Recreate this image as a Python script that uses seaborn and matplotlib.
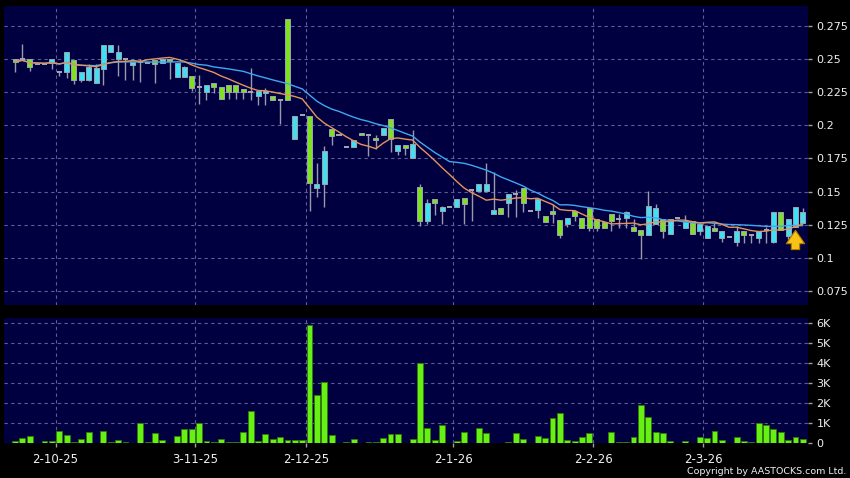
"""Daily candlestick chart with MA10/MA20 and volume, AASTOCKS style."""

import matplotlib
matplotlib.use("Agg")
import matplotlib.pyplot as plt
import numpy as np
import pandas as pd
import seaborn as sns

# ---- data (108 trading sessions) ----
opens = [
    0.250, 0.250, 0.250, 0.246, 0.246, 0.247, 0.240, 0.240, 0.2495, 0.234,
    0.2343, 0.232, 0.2425, 0.255, 0.250, 0.250, 0.2457, 0.2475, 0.247, 0.2493,
    0.247, 0.250, 0.2368, 0.2368, 0.2373, 0.2292, 0.2255, 0.232, 0.2287, 0.2305,
    0.2305, 0.2275, 0.2253, 0.2222, 0.2245, 0.2222, 0.2193, 0.280, 0.190, 0.2075,
    0.2067, 0.1525, 0.1555, 0.1975, 0.1925, 0.1837, 0.1833, 0.1945, 0.193, 0.1905,
    0.193, 0.205, 0.1805, 0.1855, 0.175, 0.1532, 0.1282, 0.1445, 0.1357, 0.1382,
    0.1382, 0.145, 0.1513, 0.1507, 0.1507, 0.1332, 0.1375, 0.1412, 0.148, 0.153,
    0.1357, 0.1362, 0.1315, 0.1357, 0.1285, 0.1255, 0.1352, 0.130, 0.1378, 0.1297,
    0.1272, 0.133, 0.1295, 0.130, 0.1237, 0.1212, 0.1175, 0.1257, 0.1295, 0.1182,
    0.130, 0.1225, 0.1275, 0.1205, 0.115, 0.1225, 0.115, 0.1155, 0.112, 0.1205,
    0.117, 0.115, 0.1212, 0.112, 0.135, 0.1167, 0.1237, 0.1267,
]
closes = [
    0.248, 0.250, 0.244, 0.246, 0.246, 0.250, 0.240, 0.255, 0.234, 0.240,
    0.2437, 0.2433, 0.2605, 0.2605, 0.255, 0.250, 0.2475, 0.2475, 0.247, 0.2463,
    0.2497, 0.2482, 0.2472, 0.2437, 0.2283, 0.2292, 0.2305, 0.2287, 0.2197, 0.225,
    0.225, 0.225, 0.2253, 0.2262, 0.2262, 0.2193, 0.2193, 0.2193, 0.2067, 0.2075,
    0.1563, 0.1557, 0.1805, 0.192, 0.1925, 0.1837, 0.1888, 0.1925, 0.193, 0.1888,
    0.198, 0.190, 0.1855, 0.183, 0.1858, 0.1282, 0.1412, 0.1412, 0.1387, 0.1382,
    0.1445, 0.1407, 0.1513, 0.1557, 0.1557, 0.1362, 0.1332, 0.148, 0.148, 0.1418,
    0.1357, 0.1445, 0.127, 0.133, 0.1175, 0.1298, 0.1315, 0.1223, 0.1227, 0.1223,
    0.1225, 0.1277, 0.1295, 0.1345, 0.120, 0.117, 0.139, 0.1375, 0.1202, 0.1297,
    0.130, 0.1275, 0.118, 0.1255, 0.1242, 0.120, 0.1205, 0.1155, 0.1205, 0.1175,
    0.117, 0.1205, 0.1212, 0.135, 0.1212, 0.1295, 0.1382, 0.135,
]
highs = [
    0.250, 0.261, 0.250, 0.246, 0.246, 0.250, 0.240, 0.255, 0.2495, 0.240,
    0.2463, 0.246, 0.2605, 0.2605, 0.2607, 0.250, 0.2475, 0.250, 0.247, 0.2493,
    0.2497, 0.250, 0.2472, 0.2445, 0.2373, 0.2382, 0.2305, 0.232, 0.2287, 0.2305,
    0.2305, 0.2275, 0.2433, 0.2262, 0.2285, 0.2222, 0.2193, 0.280, 0.2067, 0.2075,
    0.2067, 0.1718, 0.1845, 0.1975, 0.1925, 0.1837, 0.1888, 0.1945, 0.193, 0.1925,
    0.198, 0.205, 0.1855, 0.1855, 0.1963, 0.1557, 0.1445, 0.1445, 0.1395, 0.1382,
    0.1445, 0.1455, 0.1513, 0.1557, 0.1713, 0.165, 0.1375, 0.148, 0.151, 0.153,
    0.1357, 0.1445, 0.1315, 0.1407, 0.1285, 0.1298, 0.1365, 0.130, 0.1378, 0.1297,
    0.1272, 0.133, 0.1335, 0.1355, 0.1295, 0.1212, 0.1505, 0.1407, 0.1295, 0.1297,
    0.130, 0.1325, 0.1275, 0.1255, 0.1242, 0.1265, 0.1205, 0.1155, 0.124, 0.1205,
    0.117, 0.1205, 0.123, 0.135, 0.135, 0.1295, 0.1382, 0.138,
]
lows = [
    0.240, 0.250, 0.241, 0.246, 0.246, 0.2425, 0.2375, 0.236, 0.2315, 0.233,
    0.2333, 0.232, 0.2305, 0.255, 0.2375, 0.234, 0.2345, 0.2325, 0.247, 0.232,
    0.247, 0.235, 0.2368, 0.2368, 0.2258, 0.2163, 0.219, 0.2242, 0.2197, 0.220,
    0.220, 0.220, 0.219, 0.215, 0.215, 0.2193, 0.2007, 0.2193, 0.190, 0.2075,
    0.1357, 0.1462, 0.1387, 0.185, 0.1925, 0.1837, 0.1833, 0.1925, 0.177, 0.182,
    0.193, 0.180, 0.178, 0.178, 0.175, 0.124, 0.1257, 0.132, 0.1257, 0.1382,
    0.1382, 0.1257, 0.128, 0.1507, 0.1507, 0.1332, 0.1332, 0.1312, 0.1312, 0.135,
    0.1357, 0.130, 0.127, 0.126, 0.115, 0.1235, 0.128, 0.1223, 0.120, 0.120,
    0.1225, 0.120, 0.1225, 0.1225, 0.120, 0.099, 0.1175, 0.1257, 0.115, 0.1182,
    0.130, 0.1225, 0.118, 0.1172, 0.115, 0.120, 0.1117, 0.1155, 0.1087, 0.1115,
    0.1115, 0.1115, 0.111, 0.111, 0.1212, 0.114, 0.1237, 0.1267,
]
volumes = [  # shares, thousands
    0.1, 0.25, 0.35, 0.02, 0.1, 0.1, 0.6, 0.4, 0.05, 0.2,
    0.55, 0.0, 0.58, 0.03, 0.17, 0.03, 0.0, 1.0, 0.03, 0.5,
    0.15, 0.0, 0.35, 0.72, 0.72, 1.0, 0.08, 0.05, 0.22, 0.05,
    0.05, 0.53, 1.6, 0.08, 0.45, 0.22, 0.3, 0.15, 0.15, 0.15,
    5.9, 2.4, 3.05, 0.4, 0.0, 0.03, 0.22, 0.0, 0.05, 0.05,
    0.25, 0.47, 0.45, 0.0, 0.18, 4.0, 0.75, 0.15, 0.92, 0.0,
    0.1, 0.53, 0.0, 0.75, 0.5, 0.02, 0.02, 0.05, 0.48, 0.22,
    0.0, 0.33, 0.27, 1.25, 1.5, 0.15, 0.1, 0.3, 0.5, 0.02,
    0.0, 0.55, 0.03, 0.05, 0.28, 1.9, 1.3, 0.53, 0.52, 0.08,
    0.0, 0.08, 0.0, 0.32, 0.25, 0.6, 0.13, 0.0, 0.3, 0.08,
    0.05, 1.0, 0.9, 0.7, 0.53, 0.15, 0.3, 0.2,
]
date_labels = ["2-10-25", "3-11-25", "2-12-25", "2-1-26", "2-2-26", "2-3-26"]
date_pos = [5.5, 24.5, 39.5, 59.5, 78.5, 93.5]
price_ticks = [0.075, 0.1, 0.125, 0.15, 0.175, 0.2, 0.225, 0.25, 0.275]
price_tick_labels = ["0.075", "0.1", "0.125", "0.15", "0.175", "0.2", "0.225", "0.25", "0.275"]
vol_ticks = [0, 1000, 2000, 3000, 4000, 5000, 6000]
vol_tick_labels = ["0", "1K", "2K", "3K", "4K", "5K", "6K"]

BG = "#000040"
GRID = "#5c5c96"
UP = "#3ee0f2"
DOWN = "#80e022"
DOJI = "#a8a8b4"
WICK = "#9a9aaa"
VOLC = "#66f014"
TXT = "#f0f0f0"

df = pd.DataFrame({"open": opens, "high": highs, "low": lows, "close": closes,
                   "volume": np.array(volumes) * 1000})
df["idx"] = np.arange(len(df))
df["ma10"] = df["close"].rolling(10, min_periods=1).mean()
df["ma20"] = df["close"].rolling(20, min_periods=1).mean()

sns.set_style("dark")
plt.rcParams.update({"font.family": ["DejaVu Sans"], "axes.facecolor": BG})

W, H = 850, 478
fig = plt.figure(figsize=(W / 100, H / 100), dpi=100, facecolor="black")
ax = fig.add_axes([4 / W, (H - 305) / H, 804 / W, 299 / H], facecolor=BG)
axv = fig.add_axes([4 / W, (H - 443) / H, 804 / W, 125 / H], facecolor=BG)

# ---- price panel ----
body_w = 0.68
ax.vlines(df["idx"], df["low"], df["high"], color=WICK, lw=1, zorder=2)
doji = df[df["open"] == df["close"]]
ax.hlines(doji["close"], doji["idx"] - body_w / 2, doji["idx"] + body_w / 2,
          color=DOJI, lw=1.4, zorder=3)
body = df[df["open"] != df["close"]]
colors = np.where(body["close"] > body["open"], UP, DOWN)
ax.bar(body["idx"], (body["close"] - body["open"]).abs(),
       bottom=np.minimum(body["open"], body["close"]), width=body_w,
       color=colors, edgecolor="#9aa4b0", linewidth=0.7, zorder=3)

sns.lineplot(data=df, x="idx", y="ma20", color="#3fa8f0", lw=1, ax=ax, zorder=4)
sns.lineplot(data=df, x="idx", y="ma10", color="#e5935a", lw=1, ax=ax, zorder=4)

# marker arrow under the latest-but-one session
last = df.iloc[-2]
tip = min(last["open"], last["close"])
ax.annotate("", xy=(last["idx"], tip - 0.0008), xytext=(last["idx"], tip - 0.0195),
            arrowprops=dict(arrowstyle="simple,head_width=1.1,head_length=0.8,tail_width=0.5",
                            fc="#f7c416", ec="#b07a00", lw=0.8, mutation_scale=12),
            zorder=6)

ax.set_xlim(-1.5, 107.7)
ax.set_ylim(0.0645, 0.290)
ax.set_yticks(price_ticks, price_tick_labels)
ax.set_xticks(date_pos)
ax.set_xticklabels([])
ax.yaxis.tick_right()
ax.tick_params(axis="y", colors="#a0a0a0", labelcolor=TXT, labelsize=8,
               length=3, width=1, direction="out", pad=3, right=True)
ax.tick_params(axis="x", length=0)
ax.set_xlabel("")
ax.set_ylabel("")

# ---- volume panel ----
sns.barplot(data=df, x="idx", y="volume", native_scale=True, width=0.8,
            color=VOLC, saturation=1, edgecolor="#2f7a08", linewidth=0.6, ax=axv)
axv.set_xlim(-1.5, 107.7)
axv.set_ylim(0, 6250)
axv.set_yticks(vol_ticks, vol_tick_labels)
axv.set_xticks(date_pos, date_labels)
axv.yaxis.tick_right()
axv.tick_params(axis="y", colors="#a0a0a0", labelcolor=TXT, labelsize=8,
                length=3, width=1, direction="out", pad=3, right=True)
axv.tick_params(axis="x", colors="#a0a0a0", labelcolor=TXT, labelsize=8.5,
                length=3, width=1, direction="out", pad=4, bottom=True)
axv.set_xlabel("")
axv.set_ylabel("")

for a in (ax, axv):
    a.grid(True, color=GRID, lw=0.8, linestyle=(0, (3, 3)))
    a.set_axisbelow(True)
    for s in a.spines.values():
        s.set_visible(False)

fig.text(846 / W, 1 - 471 / H, "Copyright by AASTOCKS.com Ltd.", color=TXT,
         fontsize=6.8, ha="right", va="center")

fig.savefig("out.png", dpi=100, facecolor="black")
